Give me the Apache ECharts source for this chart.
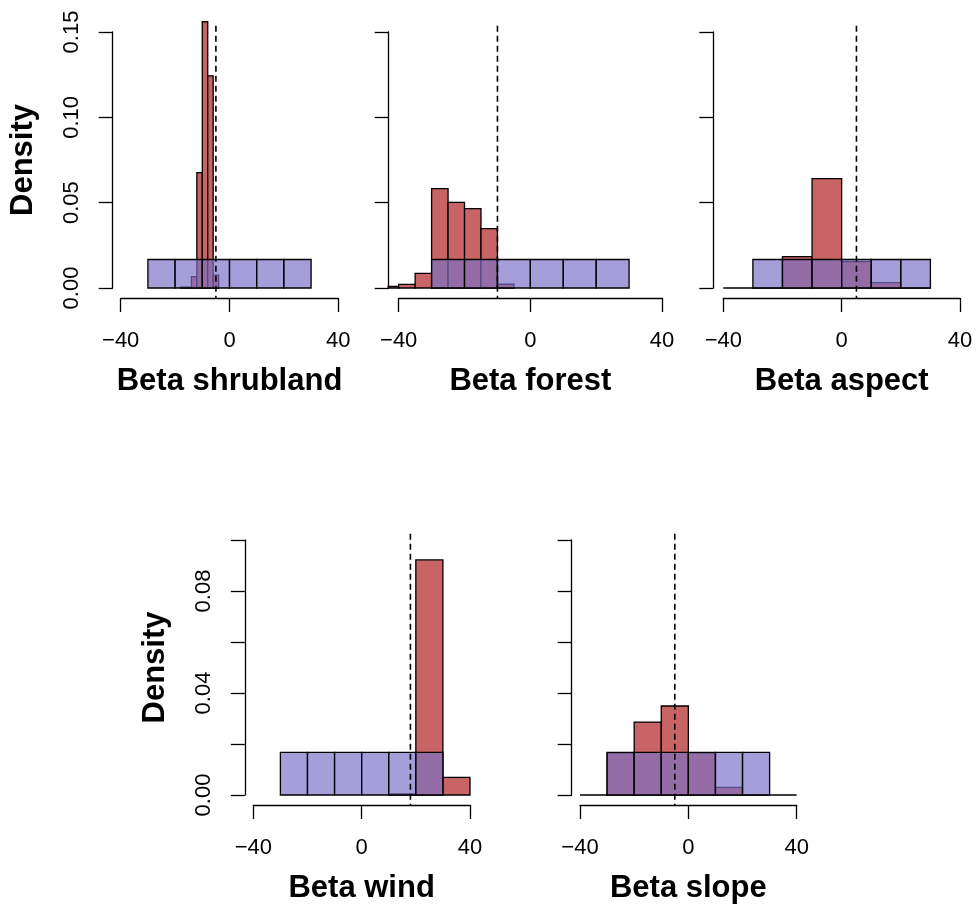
<!DOCTYPE html>
<html>
<head>
<meta charset="utf-8">
<title>Posterior vs prior</title>
<script src="https://cdn.jsdelivr.net/npm/echarts@6/dist/echarts.min.js"></script>
<style>
  html, body { margin: 0; padding: 0; background: #fff; }
  #chart { width: 976px; height: 907px; }
</style>
</head>
<body>
<div id="chart"></div>
<script>
// panel titles
const panelNames = ['Beta shrubland', 'Beta forest', 'Beta aspect', 'Beta wind', 'Beta slope']

// prior histogram (same in every panel)
const priorBreaks = [-30, -20, -10, 0, 10, 20, 30]
const priorDensity = [0.0167, 0.0167, 0.0167, 0.0167, 0.0167, 0.0167]

// posterior histograms, bin edges + densities
const shrublandBreaks = [-18, -16, -14, -12, -10, -8, -6, -4]
const shrublandDensity = [0.0005, 0.0005, 0.0066, 0.0676, 0.29, 0.1243, 0.0076]
const forestBreaks = [-45, -40, -35, -30, -25, -20, -15, -10, -5]
const forestDensity = [0.001, 0.0021, 0.0086, 0.0582, 0.0502, 0.0465, 0.0348, 0.0022]
const aspectBreaks = [-40, -30, -20, -10, 0, 10, 20, 30]
const aspectDensity = [0, 0, 0.0184, 0.0641, 0.0154, 0.0031, 0]
const windBreaks = [10, 20, 30, 40]
const windDensity = [0.0004, 0.0922, 0.0069]
const slopeBreaks = [-40, -30, -20, -10, 0, 10, 20, 30, 40]
const slopeDensity = [0, 0.0165, 0.0286, 0.0349, 0.0165, 0.003, 0, 0]

// true values (dashed lines)
const trueValues = [-5, -10, 5, 18, -5]

// axis ticks
const xTicks = [-40, 0, 40]
const yTicksTop = [0, 0.05, 0.10, 0.15]
const yTicksBottom = [0, 0.02, 0.04, 0.06, 0.08, 0.10]
const yLabelsBottom = [0, 0.04, 0.08]

const posterior = [
  [shrublandBreaks, shrublandDensity],
  [forestBreaks, forestDensity],
  [aspectBreaks, aspectDensity],
  [windBreaks, windDensity],
  [slopeBreaks, slopeDensity],
]

// plot boxes in px (grid = tick range, R adds 4% around it)
const panels = [
  {left: 120.7, top: 32, width: 217.6, height: 256, yOff: 8, ticks: yTicksTop, labels: yTicksTop, ylab: true},
  {left: 398.7, top: 32, width: 263.3, height: 256, yOff: 10, ticks: yTicksTop, labels: null},
  {left: 723.3, top: 32, width: 236.7, height: 256, yOff: 10, ticks: yTicksTop, labels: null},
  {left: 253.3, top: 540, width: 216.7, height: 255, yOff: 8.5, ticks: yTicksBottom, labels: yLabelsBottom, ylab: true},
  {left: 580, top: 540, width: 216.7, height: 255, yOff: 8.3, ticks: yTicksBottom, labels: null},
]

const FONT = '"Liberation Sans", Arial, Helvetica, sans-serif'
const RED = '#C86464'
const BLUE = 'rgba(124,112,198,0.68)'
const LW = 1.3

const xMin = xTicks[0], xMax = xTicks[xTicks.length - 1]
const xPad = (xMax - xMin) * 0.04

function toBins(breaks, dens) {
  return dens.map((d, i) => [breaks[i], breaks[i + 1], d])
}

function fmtMinus(v) {
  return v < 0 ? '\u2212' + Math.abs(v) : String(v)
}

// 直方图矩形, 超出绘图区的部分截掉
function histRender(fill, yMax) {
  return function (params, api) {
    const x0 = Math.max(api.value(0), xMin - xPad)
    const x1 = Math.min(api.value(1), xMax + xPad)
    const d = Math.min(api.value(2), yMax * 1.04)
    const p0 = api.coord([x0, 0])
    const p1 = api.coord([x1, d])
    return {
      type: 'rect',
      shape: {x: p0[0], y: p1[1], width: p1[0] - p0[0], height: p0[1] - p1[1]},
      style: {fill: fill, stroke: '#000', lineWidth: LW}
    }
  }
}

function dashRender(yMax) {
  return function (params, api) {
    const v = api.value(0)
    const a = api.coord([v, yMax * 1.04])
    const b = api.coord([v, -yMax * 0.04])
    return {
      type: 'line',
      shape: {x1: a[0], y1: a[1] + 4, x2: b[0], y2: b[1]},
      style: {stroke: '#000', lineWidth: 1.6, lineDash: [6, 4]}
    }
  }
}

const option = {
  backgroundColor: '#fff',
  animation: false,
  textStyle: {fontFamily: FONT},
  grid: [], xAxis: [], yAxis: [], series: []
}

panels.forEach((p, i) => {
  const ticks = p.ticks
  const yMax = ticks[ticks.length - 1]
  const step = ticks[1] - ticks[0]
  option.grid.push({left: p.left, top: p.top, width: p.width, height: p.height, containLabel: false, outerBoundsMode: 'none'})
  option.xAxis.push({
    type: 'value', gridIndex: i, min: xMin, max: xMax, interval: xTicks[1] - xTicks[0],
    offset: 10, splitLine: {show: false},
    axisLine: {onZero: false, lineStyle: {color: '#000', width: LW}},
    axisTick: {length: 14, lineStyle: {color: '#000', width: LW}},
    axisLabel: {color: '#000', fontSize: 22, margin: 32, fontFamily: FONT, formatter: fmtMinus},
    name: panelNames[i], nameLocation: 'middle', nameGap: 68,
    nameTextStyle: {color: '#000', fontSize: 31, fontWeight: 'bold', fontFamily: FONT}
  })
  const labels = p.labels
  option.yAxis.push({
    type: 'value', gridIndex: i, min: 0, max: yMax, interval: step,
    offset: p.yOff, splitLine: {show: false},
    axisLine: {show: true, onZero: false, lineStyle: {color: '#000', width: LW}},
    axisTick: {show: true, length: 14, lineStyle: {color: '#000', width: LW}},
    axisLabel: {
      show: !!labels, rotate: 90, color: '#000', fontSize: 22, margin: 30, fontFamily: FONT,
      formatter: v => (labels && labels.some(l => Math.abs(l - v) < 1e-9)) ? v.toFixed(2) : ''
    },
    name: p.ylab ? 'Density' : '', nameLocation: 'middle', nameGap: 74,
    nameTextStyle: {color: '#000', fontSize: 31, fontWeight: 'bold', fontFamily: FONT}
  })
  option.series.push({
    type: 'custom', xAxisIndex: i, yAxisIndex: i, silent: true,
    renderItem: histRender(RED, yMax),
    data: toBins(posterior[i][0], posterior[i][1])
  })
  option.series.push({
    type: 'custom', xAxisIndex: i, yAxisIndex: i, silent: true,
    renderItem: histRender(BLUE, yMax),
    data: toBins(priorBreaks, priorDensity)
  })
  option.series.push({
    type: 'custom', xAxisIndex: i, yAxisIndex: i, silent: true,
    renderItem: dashRender(yMax),
    data: [[trueValues[i]]]
  })
})

const chart = echarts.init(document.getElementById('chart'))
chart.setOption(option)
</script>
</body>
</html>
